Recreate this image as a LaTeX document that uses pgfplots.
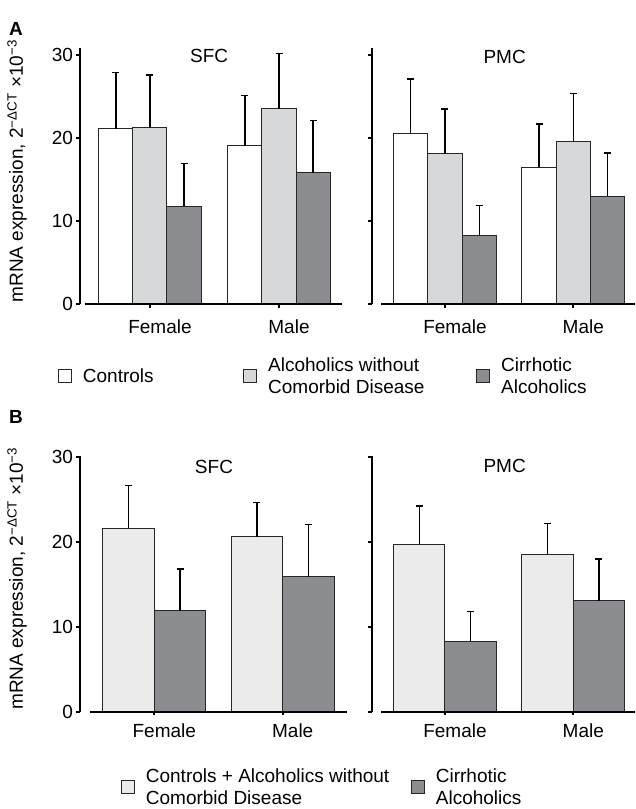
\documentclass[border=0pt]{standalone}
\usepackage{fontspec}
\setmainfont{Liberation Sans}
\usepackage{pgfplots}
\pgfplotsset{compat=1.18}
\definecolor{cL}{HTML}{D7D8DA}
\definecolor{cD}{HTML}{8C8D91}
\definecolor{cB}{HTML}{EBEBEB}
\definecolor{edge}{HTML}{262626}
\newcommand{\fs}{\fontsize{19}{22}\selectfont}
\pgfplotsset{
  sq legend/.style={legend image code/.code={\draw[##1, line width=1pt] (0.5pt,-6.5pt) rectangle (13.5pt,6.5pt);}},
  panel/.style={
    scale only axis, anchor=south west, ymin=0, clip=false,
    axis x line*=bottom, axis y line*=left,
    x axis line style={draw=none},
    y axis line style={-, line width=2.3pt, black},
    xtick={0,1}, xticklabels={Female,Male},
    ytick={0,10,20,30},
    tick align=outside, major tick length=3.5pt,
    tick style={black, line width=2pt},
    tick label style={font=\fs},
    /pgf/number format/assume math mode=true,
    title style={font=\fs, anchor=center},
    ylabel style={font=\fs, anchor=center},
    error bars/y dir=plus, error bars/y explicit,
    error bars/error bar style={line width=1.3pt, black},
    error bars/error mark options={rotate=90, line width=1.3pt, mark size=3.5pt, black},
    legend style={draw=none, fill=none, inner sep=0pt, font=\fs, column sep=0pt,
      nodes={inner sep=0pt, text depth=}, cells={anchor=west},
      /tikz/every odd column/.append style={column sep=11pt}},
  },
  bars/.style={ybar, bar shift=0pt, draw=edge, line width=1pt, sq legend},
  base/.style={sharp plot, line width=2.3pt, black, error bars/y dir=none, forget plot},
}
\begin{document}
\begin{tikzpicture}
\path[use as bounding box] (0,0) rectangle (635pt,809pt);
\node[font=\fontsize{19}{22}\selectfont\bfseries] at (16pt,780pt) {A};
\node[font=\fontsize{19}{22}\selectfont\bfseries] at (16pt,392pt) {B};

% ---------- Panel A, SFC ----------
\begin{axis}[panel, at={(80pt,504.7pt)}, width=263.5pt, height=256pt,
  xmin=-0.5426, xmax=1.5, ymax=30.8,
  xticklabel style={xshift=10pt, yshift=-8pt},
  title={SFC}, title style={at={(axis description cs:0.49,0.946)}},
  ylabel={mRNA expression, 2\textsuperscript{−ΔCT} ×10\textsuperscript{−3}},
  ylabel style={at={(axis description cs:-0.239,0.52)}},
  legend columns=3,
  legend style={at={(axis description cs:-0.0846,-0.2098)}, anchor=north west}]
\addplot[bars, bar width=0.2636, fill=white] coordinates {(-0.2636,21.1) +- (0,6.8) (0.7364,19.1) +- (0,6.0)};
\addplot[bars, bar width=0.2636, fill=cL] coordinates {(0,21.3) +- (0,6.3) (1,23.5) +- (0,6.7)};
\addplot[bars, bar width=0.2636, fill=cD] coordinates {(0.2636,11.8) +- (0,5.1) (1.2636,15.8) +- (0,6.3)};
\addplot[base] coordinates {(-0.5,0) (1.49,0)};
\addlegendentry{\parbox{160.3pt}{Controls}}
\addlegendentry{\parbox{208pt}{Alcoholics without\\Comorbid Disease}}
\addlegendentry{\parbox{120pt}{Cirrhotic\\Alcoholics}}
\end{axis}

% ---------- Panel A, PMC ----------
\begin{axis}[panel, at={(371.7pt,504.7pt)}, width=263.2pt, height=256pt,
  xmin=-0.571, xmax=1.48, ymax=30.8, yticklabels={,,,},
  xticklabel style={xshift=10pt, yshift=-8pt},
  title={PMC}, title style={at={(axis description cs:0.505,0.943)}}]
\addplot[bars, bar width=0.267, fill=white] coordinates {(-0.267,20.5) +- (0,6.6) (0.733,16.5) +- (0,5.2)};
\addplot[bars, bar width=0.267, fill=cL] coordinates {(0,18.1) +- (0,5.4) (1,19.6) +- (0,5.8)};
\addplot[bars, bar width=0.267, fill=cD] coordinates {(0.267,8.3) +- (0,3.6) (1.267,13.0) +- (0,5.2)};
\addplot[base] coordinates {(-0.5,0) (1.48,0)};
\end{axis}

% ---------- Panel B, SFC ----------
\begin{axis}[panel, at={(80pt,97.3pt)}, width=266.9pt, height=255.85pt,
  xmin=-0.5787, xmax=1.5, ymax=30.1,
  xticklabel style={xshift=10pt, yshift=-5pt},
  title={SFC}, title style={at={(axis description cs:0.502,0.933)}},
  ylabel={mRNA expression, 2\textsuperscript{−ΔCT} ×10\textsuperscript{−3}},
  ylabel style={at={(axis description cs:-0.236,0.52)}},
  legend columns=2,
  legend style={at={(axis description cs:0.1525,-0.224)}, anchor=north west}]
\addplot[bars, bar width=0.401, fill=cB] coordinates {(-0.2005,21.6) +- (0,5.0) (0.7995,20.6) +- (0,4.0)};
\addplot[bars, bar width=0.401, fill=cD] coordinates {(0.2005,11.85) +- (0,4.95) (1.2005,15.9) +- (0,6.1)};
\addplot[base] coordinates {(-0.5,0) (1.5,0)};
\addlegendentry{\parbox{265pt}{Controls + Alcoholics without\\Comorbid Disease}}
\addlegendentry{\parbox{120pt}{Cirrhotic\\Alcoholics}}
\end{axis}

% ---------- Panel B, PMC ----------
\begin{axis}[panel, at={(371.7pt,97.3pt)}, width=263.2pt, height=255.85pt,
  xmin=-0.571, xmax=1.48, ymax=30.1, yticklabels={,,,},
  xticklabel style={xshift=10pt, yshift=-5pt},
  title={PMC}, title style={at={(axis description cs:0.505,0.937)}}]
\addplot[bars, bar width=0.40, fill=cB] coordinates {(-0.20,19.7) +- (0,4.5) (0.80,18.5) +- (0,3.6)};
\addplot[bars, bar width=0.40, fill=cD] coordinates {(0.20,8.3) +- (0,3.5) (1.20,13.06) +- (0,4.9)};
\addplot[base] coordinates {(-0.5,0) (1.48,0)};
\end{axis}
\end{tikzpicture}
\end{document}
